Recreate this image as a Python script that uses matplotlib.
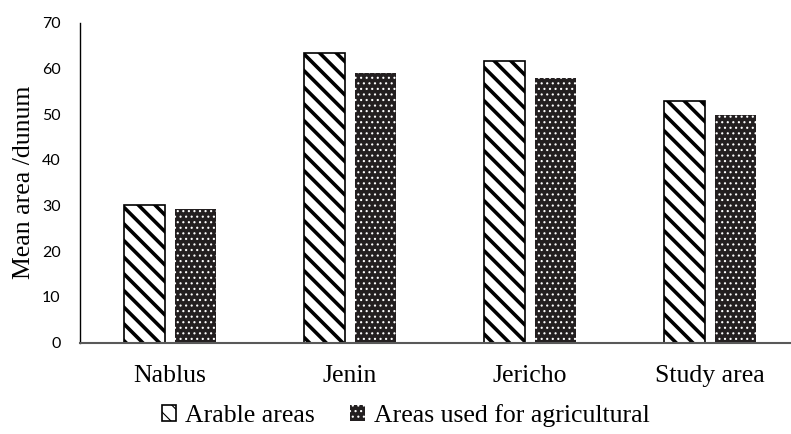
import numpy as np
import matplotlib.pyplot as plt

regions = ["Nablus", "Jenin", "Jericho", "Study area"]
arable = [30.2, 63.5, 61.7, 53.0]
used_for_agri = [29.2, 59.0, 57.9, 49.8]

serif = "Liberation Serif"

fig = plt.figure(figsize=(7.91, 4.34), dpi=100)
ax = fig.add_axes([80 / 791, (434 - 342.5) / 434, 720 / 791, 319.5 / 434])

x = np.arange(len(regions))
w = 0.228
off = 0.142


def set_hatch_lw(bars, lw):
    for b in bars:
        if hasattr(b, "set_hatch_linewidth"):
            b.set_hatch_linewidth(lw)


plt.rcParams["hatch.linewidth"] = 2.6
b1 = ax.bar(x - off, arable, w, color="white", edgecolor="black",
            hatch="\\\\", linewidth=1.2, label="Arable areas", zorder=2)
set_hatch_lw(b1, 2.6)

plt.rcParams["hatch.linewidth"] = 0.8
b2 = ax.bar(x + off, used_for_agri, w, color="#231f20", edgecolor="white",
            hatch="...", linewidth=0, label="Areas used for agricultural", zorder=2)
set_hatch_lw(b2, 0.8)

ax.set_xlim(-0.5, 3.5)
ax.set_ylim(0, 70)
ax.set_yticks(range(0, 71, 10))
ax.set_xticks(x)
ax.set_xticklabels(regions, fontfamily=serif, fontsize=18.5)
ax.tick_params(axis="y", labelsize=11.5, length=0, pad=14)
ax.tick_params(axis="x", length=0, pad=16)
for lab in ax.get_yticklabels():
    lab.set_fontfamily("Lato")

for s in ["top", "right"]:
    ax.spines[s].set_visible(False)
ax.spines["left"].set_color("black")
ax.spines["left"].set_linewidth(1.0)
ax.spines["bottom"].set_color("#595959")
ax.spines["bottom"].set_linewidth(1.5)

ax.set_ylabel("Mean area /dunum", fontfamily=serif, fontsize=18.5, labelpad=5)

ax.legend(loc="upper center", bbox_to_anchor=(0.452, -0.12), ncol=2, frameon=False,
          prop={"family": serif, "size": 18.5},
          handlelength=0.55, handleheight=0.55, handletextpad=0.35, columnspacing=1.4)

fig.savefig("out.png", dpi=100)
